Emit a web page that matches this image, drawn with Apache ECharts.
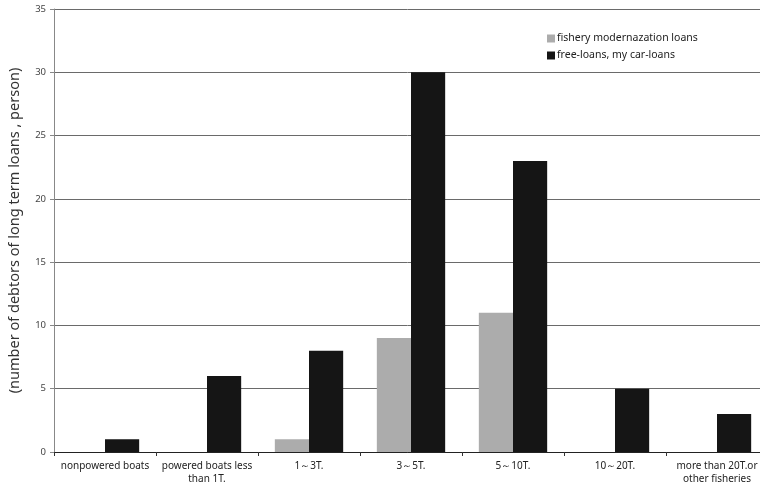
<!DOCTYPE html>
<html>
<head>
<meta charset="utf-8">
<script src="https://cdn.jsdelivr.net/npm/echarts@6/dist/echarts.min.js"></script>
<style>
  html, body { margin: 0; padding: 0; background: #ffffff; }
  #chart { width: 760px; height: 484px; }
</style>
</head>
<body>
<div id="chart"></div>
<script>
// Boat size classes
const categories = [
  'nonpowered boats',
  'powered boats less\nthan 1T.',
  '1～3T.',
  '3～5T.',
  '5～10T.',
  '10～20T.',
  'more than 20T.or\nother fisheries'
];
// Number of debtors per loan type
const fisheryModernization = [0, 0, 1, 9, 11, 0, 0];
const freeLoans = [1, 6, 8, 30, 23, 5, 3];
const yTicks = { min: 0, max: 35, interval: 5 };

const chart = echarts.init(document.getElementById('chart'));
const font = '"Noto Sans", "DejaVu Sans", sans-serif';

chart.setOption({
  animation: false,
  backgroundColor: '#ffffff',
  grid: {
    left: 54, right: -8, top: 9, bottom: 32,
    containLabel: false, outerBoundsMode: 'none'
  },
  legend: {
    orient: 'vertical',
    left: 542,
    top: 28,
    itemWidth: 8,
    itemHeight: 8,
    itemGap: 6,
    icon: 'rect',
    textStyle: { fontFamily: font, fontSize: 10.5, color: '#222', padding: [0, 0, 0, -3] },
    data: ['fishery modernazation loans', 'free-loans, my car-loans']
  },
  xAxis: {
    type: 'category',
    data: categories,
    axisLine: { show: true, lineStyle: { color: '#222', width: 1 } },
    axisTick: { show: true, inside: false, length: 4, lineStyle: { color: '#333' } },
    axisLabel: {
      fontFamily: font, fontSize: 10, color: '#222', margin: 8,
      lineHeight: 13, interval: 0
    }
  },
  yAxis: {
    type: 'value',
    min: yTicks.min,
    max: yTicks.max,
    interval: yTicks.interval,
    name: '(number of debtors of long term loans , person)',
    nameLocation: 'middle',
    nameGap: 32,
    nameRotate: 90,
    nameTextStyle: { fontFamily: font, fontSize: 14.5, color: '#333' },
    axisLine: { show: true, lineStyle: { color: '#888', width: 1 } },
    axisTick: { show: true, inside: false, length: 4, lineStyle: { color: '#888' } },
    axisLabel: { fontFamily: font, fontSize: 9.5, color: '#444', margin: 8 },
    splitLine: { show: true, lineStyle: { color: '#6a6a6a', width: 1 } }
  },
  series: [
    {
      name: 'fishery modernazation loans',
      type: 'bar',
      data: fisheryModernization,
      barGap: '0%',
      barCategoryGap: '33%',
      itemStyle: { color: '#acacac' }
    },
    {
      name: 'free-loans, my car-loans',
      type: 'bar',
      data: freeLoans,
      barGap: '0%',
      barCategoryGap: '33%',
      itemStyle: { color: '#151515' }
    }
  ]
});
</script>
</body>
</html>
